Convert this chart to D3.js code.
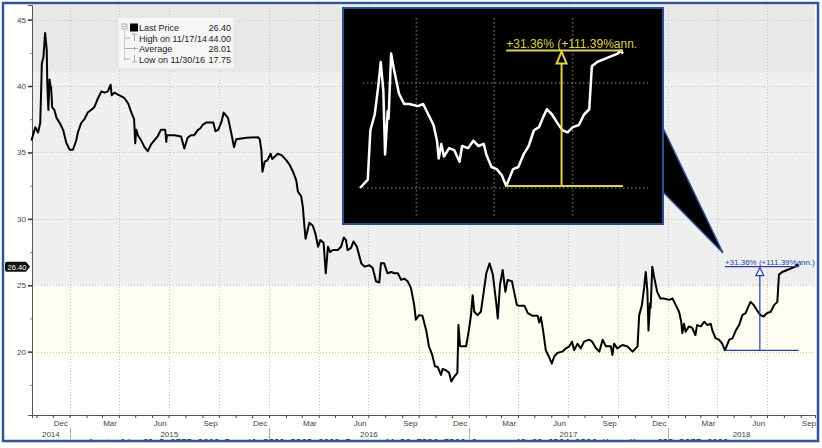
<!DOCTYPE html>
<html><head><meta charset="utf-8">
<script src="https://cdn.jsdelivr.net/npm/d3@7"></script>
<style>body{margin:0;background:#fff}svg{display:block}</style>
</head><body><svg id="c" width="822" height="448"></svg>
<script>
// ---------------- data ----------------
const dates = ["2014-10-23","2014-10-30","2014-11-04","2014-11-08","2014-11-10","2014-11-11","2014-11-14","2014-11-17","2014-11-20","2014-11-21","2014-11-23","2014-11-25","2014-11-27","2014-11-28","2014-11-30","2014-12-04","2014-12-08","2014-12-14","2014-12-20","2014-12-26","2015-01-01","2015-01-07","2015-01-13","2015-01-16","2015-01-22","2015-01-28","2015-02-03","2015-02-09","2015-02-15","2015-02-21","2015-02-28","2015-03-06","2015-03-12","2015-03-17","2015-03-19","2015-03-24","2015-04-02","2015-04-11","2015-04-18","2015-04-24","2015-04-29","2015-05-01","2015-05-03","2015-05-06","2015-05-12","2015-05-18","2015-05-24","2015-05-30","2015-06-05","2015-06-11","2015-06-17","2015-06-25","2015-06-27","2015-06-28","2015-07-12","2015-07-24","2015-07-30","2015-08-05","2015-08-11","2015-08-17","2015-08-24","2015-08-28","2015-09-02","2015-09-08","2015-09-21","2015-09-25","2015-09-30","2015-10-06","2015-10-10","2015-10-18","2015-10-24","2015-10-29","2015-11-02","2015-11-21","2015-12-12","2015-12-15","2015-12-18","2015-12-20","2015-12-24","2015-12-29","2016-01-04","2016-01-07","2016-01-17","2016-01-24","2016-02-02","2016-02-08","2016-02-14","2016-02-20","2016-02-23","2016-02-29","2016-03-03","2016-03-06","2016-03-08","2016-03-12","2016-03-15","2016-03-21","2016-03-26","2016-03-31","2016-04-04","2016-04-10","2016-04-14","2016-04-18","2016-04-22","2016-04-27","2016-05-06","2016-05-12","2016-05-17","2016-05-21","2016-05-24","2016-05-30","2016-06-04","2016-06-10","2016-06-18","2016-06-24","2016-07-03","2016-07-09","2016-07-15","2016-07-21","2016-07-24","2016-07-30","2016-08-05","2016-08-12","2016-08-18","2016-08-24","2016-08-30","2016-09-05","2016-09-11","2016-09-17","2016-09-23","2016-09-26","2016-10-02","2016-10-08","2016-10-15","2016-10-20","2016-10-26","2016-10-31","2016-11-05","2016-11-11","2016-11-14","2016-11-20","2016-11-26","2016-11-30","2016-12-05","2016-12-11","2016-12-13","2016-12-16","2016-12-27","2017-01-01","2017-01-05","2017-01-08","2017-01-11","2017-01-17","2017-01-23","2017-01-28","2017-02-02","2017-02-08","2017-02-14","2017-02-20","2017-02-23","2017-02-27","2017-03-04","2017-03-09","2017-03-13","2017-03-21","2017-03-25","2017-03-30","2017-04-03","2017-04-13","2017-04-19","2017-04-28","2017-05-07","2017-05-10","2017-05-13","2017-05-17","2017-05-22","2017-05-28","2017-06-02","2017-06-06","2017-06-12","2017-06-21","2017-06-28","2017-07-04","2017-07-09","2017-07-13","2017-07-19","2017-07-25","2017-07-31","2017-08-09","2017-08-15","2017-08-22","2017-08-28","2017-09-03","2017-09-09","2017-09-18","2017-09-21","2017-09-24","2017-09-30","2017-10-09","2017-10-18","2017-10-28","2017-11-06","2017-11-09","2017-11-14","2017-11-18","2017-11-21","2017-11-24","2017-11-26","2017-11-29","2017-11-30","2017-12-03","2017-12-06","2017-12-12","2017-12-18","2017-12-24","2018-01-03","2018-01-09","2018-01-15","2018-01-21","2018-01-25","2018-01-27","2018-01-30","2018-02-02","2018-02-08","2018-02-14","2018-02-20","2018-02-23","2018-03-02","2018-03-08","2018-03-14","2018-03-20","2018-03-23","2018-03-29","2018-04-04","2018-04-10","2018-04-15","2018-04-23","2018-04-29","2018-05-05","2018-05-11","2018-05-17","2018-05-23","2018-05-28","2018-06-01","2018-06-07","2018-06-13","2018-06-19","2018-06-25","2018-07-01","2018-07-08","2018-07-14","2018-07-20","2018-07-23","2018-07-29","2018-08-07","2018-08-16","2018-08-22","2018-08-25","2018-08-28"];
const prices = [35.9,36.9,36.5,37.2,40.0,41.7,42.2,44.0,42.7,40.2,38.2,40.5,40.0,39.9,38.4,38.2,37.6,37.2,36.7,35.7,35.2,35.2,35.9,36.5,37.2,37.5,38.0,38.2,38.4,39.0,39.6,39.5,39.6,40.1,39.3,39.5,39.3,39.1,38.7,38.0,37.5,35.7,36.7,36.3,35.9,35.4,35.1,35.6,35.9,36.2,36.7,36.7,35.8,36.3,36.3,36.2,35.3,36.1,36.3,36.3,36.7,36.8,37.1,37.25,37.25,36.6,36.7,37.3,38.0,37.6,36.45,35.4,36.0,36.1,36.15,36.0,35.2,33.55,34.3,34.4,34.9,34.5,34.9,34.8,34.4,34.05,33.55,32.9,32.05,31.7,30.9,29.4,28.5,29.2,29.7,29.5,28.9,27.9,28.4,28.2,25.9,27.9,27.5,27.65,27.65,27.9,28.6,28.4,27.65,27.8,28.3,27.9,26.65,26.4,26.5,26.3,25.3,25.2,26.65,26.65,25.9,26.0,25.9,25.9,25.4,25.5,25.3,24.8,23.5,22.4,22.75,22.7,21.6,20.4,19.75,18.9,18.85,18.25,18.7,18.6,18.4,17.75,18.1,18.4,22.0,20.4,20.4,21.6,22.75,24.25,23.0,22.75,23.0,24.4,25.9,26.65,25.8,23.75,22.5,25.0,26.15,24.5,25.4,25.3,24.5,23.5,23.45,23.45,22.9,22.7,22.7,22.2,22.6,21.6,20.1,19.6,19.1,19.6,19.9,20.0,20.25,20.4,20.75,20.1,20.6,20.25,20.75,20.9,20.75,20.25,20.0,20.9,20.4,20.4,19.75,20.6,20.25,20.5,20.4,20.0,20.4,22.75,23.5,24.8,26.0,24.6,21.6,23.65,23.3,26.4,25.7,24.5,24.0,24.0,23.9,24.0,23.5,23.0,22.25,21.4,22.1,21.5,21.9,21.8,21.25,22.0,21.9,22.25,22.0,22.1,21.6,21.0,20.9,20.6,20.1,20.9,21.0,21.6,22.0,22.75,22.9,23.4,23.75,23.5,23.1,22.75,22.65,22.9,23.0,23.5,23.75,25.8,26.0,26.15,26.3,26.4,26.55,26.4];
const yTicks = [20, 25, 30, 35, 40, 45];
const yMinorTicks = [17.5, 22.5, 27.5, 32.5, 37.5, 42.5];
const monthLabelMonths = [11, 2, 5, 8]; // Dec, Mar, Jun, Sep (0-based)
const yearLabels = ["2014", "2015", "2016", "2017", "2018"];
const legendLabels = ["Last Price", "High on 11/17/14", "Average", "Low on 11/30/16"];
const legendValues = ["26.40", "44.00", "28.01", "17.75"];
const bandEdges = [46.2, 41.0, 25.0, 19.4];
const bandColors = ["#e8e8e8", "#efefef", "#fffef3"];
const lastPrice = 26.40;
const lowPrice = 20.10;
const annoDates = ["2018-04-15", "2018-06-18", "2018-08-28"];
const annoText = "+31.36% (+111.39%ann.)";
const insetText = "+31.36% (+111.39%ann.";
const insetRange = ["2017-10-28", "2018-08-28"];
const insetGridY = [20, 25];
const footer = "Australia 61 2 9777 8600 Brazil 5511 2395 9000 Europe 44 20 7330 7500 Germany 49 69 9204 1210 Hong Kong 852 2977 6000";

// ---------------- setup ----------------
const parse = d3.utcParse("%Y-%m-%d");
const data = dates.map((d, i) => ({ date: parse(d), v: prices[i] }));
const svg = d3.select("#c");
const FONT = "'Liberation Sans', Arial, sans-serif";
const L = 32, R = 815, T = 5, B = 415;

const x = d3.scaleUtc().domain([parse("2014-10-24"), parse("2018-09-27")]).range([L, R]);
const y = d3.scaleLinear().domain([15.23, 46.1]).range([B, T]);

// bands
for (let i = 0; i < bandColors.length; i++) {
  const top = Math.max(T, y(bandEdges[i]));
  svg.append("rect").attr("x", L).attr("width", R - L)
    .attr("y", top).attr("height", y(bandEdges[i + 1]) - top)
    .attr("fill", bandColors[i]);
}

// grid
const grid = svg.append("g").attr("stroke", "#c4c4c4").attr("stroke-dasharray", "1,2").attr("stroke-width", 1);
yTicks.forEach(t => grid.append("line").attr("x1", L).attr("x2", R).attr("y1", Math.round(y(t)) + 0.5).attr("y2", Math.round(y(t)) + 0.5));
const quarters = d3.utcMonth.every(3).range(x.domain()[0], x.domain()[1]);
quarters.forEach(q => grid.append("line").attr("x1", Math.round(x(q)) + 0.5).attr("x2", Math.round(x(q)) + 0.5).attr("y1", T).attr("y2", B));

// axes
const yAxis = svg.append("g").attr("transform", `translate(${L},0)`)
  .call(d3.axisLeft(y).tickValues(yTicks).tickSize(4).tickPadding(2));
yAxis.select(".domain").attr("stroke", "#555");
yAxis.selectAll(".tick line").attr("stroke", "#333").attr("stroke-width", 1.5);
yAxis.selectAll("text").attr("font-family", FONT).attr("font-size", 8).attr("fill", "#444");
const yMinor = svg.append("g").attr("transform", `translate(${L},0)`)
  .call(d3.axisLeft(y).tickValues(yMinorTicks).tickSize(2).tickFormat(""));
yMinor.select(".domain").remove();
yMinor.selectAll(".tick line").attr("stroke", "#888");

const xAxis = svg.append("g").attr("transform", `translate(0,${B})`)
  .call(d3.axisBottom(x).ticks(d3.utcMonth.every(1)).tickSize(3).tickFormat(""));
xAxis.select(".domain").attr("stroke", "#555");
xAxis.selectAll(".tick line").attr("stroke", "#444");

const monthMids = d3.utcMonth.range(x.domain()[0], x.domain()[1])
  .filter(m => monthLabelMonths.includes(m.getUTCMonth()))
  .map(m => new Date(m.getTime() + 14 * 864e5));
const xLab = svg.append("g").attr("transform", `translate(0,${B})`)
  .call(d3.axisBottom(x).tickValues(monthMids).tickSize(0).tickPadding(5).tickFormat(d3.utcFormat("%b")));
xLab.select(".domain").remove();
xLab.selectAll("text").attr("font-family", FONT).attr("font-size", 8).attr("fill", "#444");

// year labels & separators
const yearStarts = d3.utcYear.range(x.domain()[0], x.domain()[1]);
yearStarts.forEach(ys => {
  svg.append("line").attr("x1", Math.round(x(ys)) + 0.5).attr("x2", Math.round(x(ys)) + 0.5)
    .attr("y1", 428).attr("y2", 439).attr("stroke", "#aaa").attr("stroke-width", 1);
});
yearLabels.forEach((lab, i) => {
  const y0 = d3.utcYear.floor(parse(lab + "-06-01"));
  const s = Math.max(x(y0), L), e = Math.min(x(d3.utcYear.offset(y0, 1)), R);
  svg.append("text").attr("x", (s + e) / 2).attr("y", 437).attr("text-anchor", "middle")
    .attr("font-family", FONT).attr("font-size", 8).attr("fill", "#444").text(lab);
});

// main line
const line = d3.line().x(d => x(d.date)).y(d => y(d.v));
svg.append("path").datum(data).attr("d", line).attr("fill", "none")
  .attr("stroke", "#000").attr("stroke-width", 2).attr("stroke-linejoin", "round");

// annotation (blue)
const blue = "#2a3ea8";
const aS = x(parse(annoDates[0])), aM = x(parse(annoDates[1])), aE = x(parse(annoDates[2]));
const ann = svg.append("g").attr("stroke", blue).attr("stroke-width", 1.2).attr("fill", "none");
ann.append("line").attr("x1", aS).attr("x2", aE).attr("y1", y(lastPrice)).attr("y2", y(lastPrice));
ann.append("line").attr("x1", aS).attr("x2", aE).attr("y1", y(lowPrice)).attr("y2", y(lowPrice));
ann.append("line").attr("x1", aM).attr("x2", aM).attr("y1", y(lowPrice)).attr("y2", y(lastPrice) + 9);
ann.append("path").attr("d", `M${aM},${y(lastPrice) + 1}L${aM - 4},${y(lastPrice) + 9}L${aM + 4},${y(lastPrice) + 9}Z`).attr("fill", "#fff");
svg.append("text").attr("x", aS).attr("y", y(lastPrice) - 2).attr("font-family", FONT)
  .attr("font-size", 8).attr("fill", blue).text(annoText);

// last price tag
const ty = y(lastPrice);
svg.append("path").attr("d", `M7,${ty - 5}L26,${ty - 5}L30,${ty}L26,${ty + 5}L7,${ty + 5}Q5,${ty + 5} 5,${ty + 3}L5,${ty - 3}Q5,${ty - 5} 7,${ty - 5}Z`).attr("fill", "#111");
svg.append("text").attr("x", 17).attr("y", ty + 3).attr("text-anchor", "middle").attr("font-family", FONT)
  .attr("font-size", 7.5).attr("fill", "#fff").text(lastPrice.toFixed(2));

// legend
const lg = svg.append("g");
lg.append("rect").attr("x", 118).attr("y", 17).attr("width", 116).attr("height", 52).attr("fill", "#f6f6f6").attr("stroke", "#e2e2e2");
legendLabels.forEach((lab, i) => {
  const ry = 31 + i * 10.5;
  lg.append("text").attr("x", 139).attr("y", ry).attr("font-family", FONT).attr("font-size", 9).attr("fill", "#222").text(lab);
  lg.append("text").attr("x", 231).attr("y", ry).attr("text-anchor", "end").attr("font-family", FONT).attr("font-size", 9).attr("fill", "#222").text(legendValues[i]);
});
lg.append("rect").attr("x", 122).attr("y", 24).attr("width", 5).attr("height", 5).attr("fill", "none").attr("stroke", "#999").attr("stroke-width", 0.7);
lg.append("line").attr("x1", 123).attr("x2", 126).attr("y1", 26.5).attr("y2", 26.5).attr("stroke", "#999").attr("stroke-width", 0.7);
lg.append("line").attr("x1", 124.5).attr("x2", 124.5).attr("y1", 29).attr("y2", 60).attr("stroke", "#bbb").attr("stroke-width", 0.7);
lg.append("rect").attr("x", 130).attr("y", 23.5).attr("width", 8).attr("height", 8).attr("fill", "#000");
const ic = lg.append("g").attr("stroke", "#999").attr("stroke-width", 0.8);
// high
ic.append("line").attr("x1", 124.5).attr("x2", 130).attr("y1", 38).attr("y2", 38);
ic.append("line").attr("x1", 132).attr("x2", 137).attr("y1", 34).attr("y2", 34);
ic.append("line").attr("x1", 134.5).attr("x2", 134.5).attr("y1", 34).attr("y2", 41);
// average
ic.append("line").attr("x1", 124.5).attr("x2", 138).attr("y1", 48.5).attr("y2", 48.5);
ic.append("line").attr("x1", 134.5).attr("x2", 134.5).attr("y1", 46.5).attr("y2", 50.5);
// low
ic.append("line").attr("x1", 124.5).attr("x2", 130).attr("y1", 59).attr("y2", 59);
ic.append("line").attr("x1", 132).attr("x2", 137).attr("y1", 62).attr("y2", 62);
ic.append("line").attr("x1", 134.5).attr("x2", 134.5).attr("y1", 55).attr("y2", 62);

// callout wedge
svg.append("path").attr("d", "M663,128L663,192L723,253Z").attr("fill", "#000").attr("stroke", "#2d4f93").attr("stroke-width", 1.5);

// inset
const IX0 = 343, IY0 = 8, IX1 = 663, IY1 = 224;
const inset = svg.append("g");
inset.append("rect").attr("x", IX0).attr("y", IY0).attr("width", IX1 - IX0).attr("height", IY1 - IY0).attr("fill", "#000");
svg.append("clipPath").attr("id", "ic").append("rect").attr("x", IX0).attr("y", IY0).attr("width", IX1 - IX0).attr("height", IY1 - IY0);
const ix = d3.scaleUtc().domain(insetRange.map(parse)).range([360, 623]);
const iy = d3.scaleLinear().domain([20, 25]).range([188, 83]);
const ig = inset.append("g").attr("clip-path", "url(#ic)");
const igrid = ig.append("g").attr("stroke", "#8a8a8a").attr("stroke-dasharray", "1.5,2.5").attr("stroke-width", 1);
insetGridY.forEach(t => igrid.append("line").attr("x1", IX0 + 20).attr("x2", IX1 - 15).attr("y1", iy(t)).attr("y2", iy(t)));
d3.utcMonth.every(3).range(parse(insetRange[0]), parse(insetRange[1])).forEach(q =>
  igrid.append("line").attr("x1", ix(q)).attr("x2", ix(q)).attr("y1", IY0 + 10).attr("y2", IY1 - 8));
const iline = d3.line().x(d => ix(d.date)).y(d => iy(d.v));
ig.append("path").datum(data.filter(d => d.date >= parse(insetRange[0]))).attr("d", iline)
  .attr("fill", "none").attr("stroke", "#fff").attr("stroke-width", 2.5).attr("stroke-linejoin", "round");
const yel = "#ddd24a";
const iS = ix(parse(annoDates[0])), iM = ix(parse(annoDates[1])), iE = ix(parse(annoDates[2]));
const ia = ig.append("g").attr("stroke", yel).attr("stroke-width", 2).attr("fill", "none");
ia.append("line").attr("x1", iS).attr("x2", iE).attr("y1", iy(lastPrice) - 3).attr("y2", iy(lastPrice) - 3);
ia.append("line").attr("x1", iS).attr("x2", iE).attr("y1", iy(lowPrice)).attr("y2", iy(lowPrice));
ia.append("line").attr("x1", iM).attr("x2", iM).attr("y1", iy(lowPrice)).attr("y2", iy(lastPrice) + 10);
ia.append("path").attr("d", `M${iM},${iy(lastPrice) - 2}L${iM - 5},${iy(lastPrice) + 10}L${iM + 5},${iy(lastPrice) + 10}Z`).attr("fill", "#000");
ig.append("text").attr("x", iS).attr("y", iy(lastPrice) - 6).attr("font-family", FONT)
  .attr("font-size", 12).attr("fill", yel).text(insetText);
inset.append("rect").attr("x", IX0).attr("y", IY0).attr("width", IX1 - IX0).attr("height", IY1 - IY0)
  .attr("fill", "none").attr("stroke", "#2d4f93").attr("stroke-width", 2);

// footer (clipped by frame)
svg.append("clipPath").attr("id", "fc").append("rect").attr("x", 0).attr("y", 0).attr("width", 822).attr("height", 440);
svg.append("text").attr("clip-path", "url(#fc)").attr("x", 88).attr("y", 446)
  .attr("font-family", "'DejaVu Sans Mono', 'Liberation Mono', monospace").attr("font-size", 9.1)
  .attr("fill", "#222").text(footer);

// outer frame
svg.append("rect").attr("x", 3).attr("y", 3).attr("width", 815).attr("height", 438)
  .attr("fill", "none").attr("stroke", "#2e5597").attr("stroke-width", 2.5);
</script></body></html>
